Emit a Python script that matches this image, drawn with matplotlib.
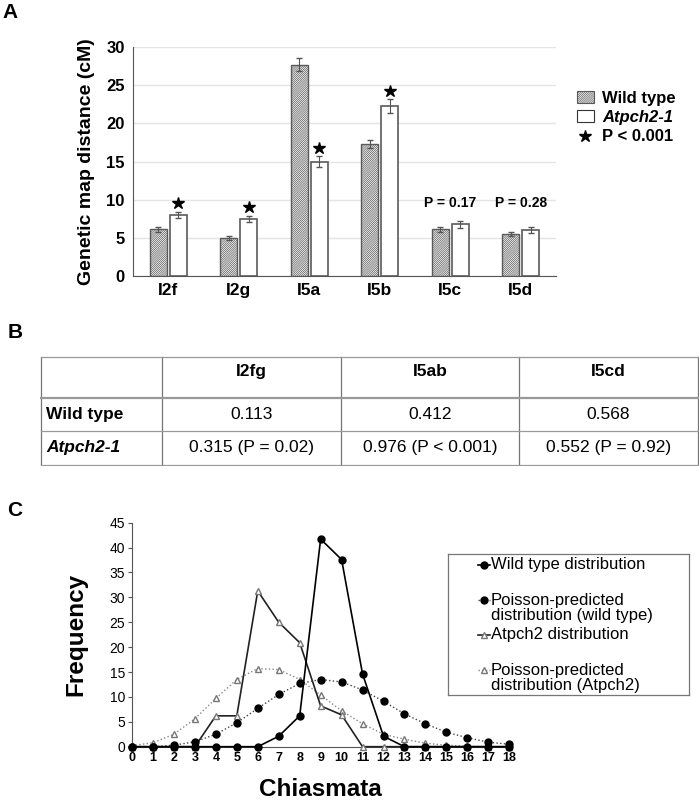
import numpy as np
import matplotlib.pyplot as plt
from matplotlib.patches import Patch
from matplotlib.lines import Line2D

plt.rcParams['font.family'] = ['Liberation Sans', 'DejaVu Sans']
plt.rcParams['hatch.linewidth'] = 0.5
narrow = ['Liberation Sans Narrow', 'Liberation Sans', 'DejaVu Sans']

# panel A data
intervals = ['I2f', 'I2g', 'I5a', 'I5b', 'I5c', 'I5d']
wt_cm = [6.1, 5.0, 27.7, 17.3, 6.1, 5.5]
wt_err = [0.3, 0.3, 0.8, 0.55, 0.3, 0.3]
mut_cm = [8.0, 7.5, 15.0, 22.3, 6.8, 6.0]
mut_err = [0.4, 0.4, 0.7, 0.9, 0.45, 0.4]
significant = [True, True, True, True, False, False]
p_labels = ['', '', '', '', 'P = 0.17', 'P = 0.28']

# panel B data
col_labels = ['I2fg', 'I5ab', 'I5cd']
row_labels = ['Wild type', 'Atpch2-1']
cell_values = [['0.113', '0.412', '0.568'],
               ['0.315 (P = 0.02)', '0.976 (P < 0.001)', '0.552 (P = 0.92)']]

# panel C data
chiasmata = list(range(19))
wt_dist = [0, 0, 0, 0, 0, 0, 0, 2.1, 6.2, 41.7, 37.6, 14.6, 2.1, 0, 0, 0, 0, 0, 0]
wt_poisson = [0, 0, 0.3, 1.0, 2.5, 4.8, 7.7, 10.5, 12.7, 13.5, 13.0, 11.4, 9.1,
              6.6, 4.6, 2.9, 1.8, 0.9, 0.5]
mut_dist = [0, 0, 0, 0, 6.2, 6.2, 31.3, 25.0, 20.9, 8.2, 6.4, 0, 0, 0, 0, 0, 0, 0, 0]
mut_poisson = [0.2, 0.8, 2.5, 5.6, 9.7, 13.5, 15.7, 15.5, 13.5, 10.4, 7.2, 4.6,
               2.5, 1.5, 0.7, 0.3, 0.1, 0, 0]

fig = plt.figure(figsize=(6.99, 8.0), dpi=100)
W, H = 699.0, 800.0

# ---------- A ----------
axA = fig.add_axes([133 / W, 1 - 276 / H, 423 / W, 229 / H])
x = np.arange(len(intervals))
bw = 0.24
edge = '#5a5a5a'
hatch = '/' * 16
axA.bar(x - 0.14, wt_cm, bw, yerr=wt_err, color='white', edgecolor=edge,
        hatch=hatch, linewidth=1.0, error_kw=dict(ecolor='#555555', elinewidth=0.8, capsize=2),
        zorder=3)
axA.bar(x + 0.14, mut_cm, bw, yerr=mut_err, color='white', edgecolor=edge,
        linewidth=1.2, error_kw=dict(ecolor='#555555', elinewidth=0.8, capsize=2),
        zorder=3)
for i in range(len(intervals)):
    if significant[i]:
        axA.plot(x[i] + 0.14, mut_cm[i] + mut_err[i] + 1.1, marker='*', color='black',
                 markersize=9, linestyle='none', zorder=4)
    if p_labels[i]:
        axA.text(x[i], 8.7, p_labels[i], ha='center', va='bottom',
                 fontsize=10, fontweight='bold')
axA.set_xlim(-0.5, 5.5)
axA.set_ylim(0, 30)
axA.set_yticks([0, 5, 10, 15, 20, 25, 30])
axA.set_xticks(x)
axA.set_xticklabels(intervals, fontsize=12.5, fontweight='bold', family=narrow)
for t in axA.get_yticklabels():
    t.set_fontsize(12)
    t.set_fontweight('bold')
axA.tick_params(length=0, pad=6)
axA.tick_params(axis='x', pad=5)
axA.grid(axis='y', color='#e4e4e4', linewidth=1.0, zorder=0)
axA.set_axisbelow(True)
for s in ['top', 'right']:
    axA.spines[s].set_visible(False)
axA.spines['left'].set_color('#555555')
axA.spines['bottom'].set_color('#555555')
axA.set_ylabel('Genetic map distance (cM)', fontsize=14, fontweight='bold', labelpad=8)

handles = [Patch(facecolor='white', edgecolor=edge, hatch=hatch, linewidth=0.8),
           Patch(facecolor='white', edgecolor='#333333', linewidth=0.8),
           Line2D([], [], marker='*', color='black', linestyle='none', markersize=9)]
legA = fig.legend(handles, ['Wild type', 'Atpch2-1', 'P < 0.001'], loc='upper left',
                  bbox_to_anchor=(562 / W, 1 - 76 / H), frameon=False, fontsize=12,
                  handlelength=1.0, handleheight=0.7, handletextpad=0.5, labelspacing=0.25)
texts = legA.get_texts()
for t in texts:
    t.set_fontweight('bold')
texts[1].set_fontstyle('italic')

fig.text(10 / W, 1 - 12 / H, 'A', fontsize=15, fontweight='bold', va='center', ha='center')

# ---------- B ----------
fig.text(15 / W, 1 - 333 / H, 'B', fontsize=15, fontweight='bold', va='center', ha='center')
axB = fig.add_axes([40 / W, 1 - 466 / H, 659 / W, 110 / H])
axB.set_xlim(0, 659)
axB.set_ylim(110, 0)
axB.axis('off')
col_x = [0.5, 122, 301, 479, 658]
row_y = [0.5, 42, 75, 108.5]
for cx in col_x:
    axB.plot([cx, cx], [row_y[0], row_y[-1]], color='#777777', linewidth=0.9)
for i, ry in enumerate(row_y):
    axB.plot([col_x[0], col_x[-1]], [ry, ry], color='#999999',
             linewidth=1.6 if i == 1 else 0.9)
for j in range(len(col_labels)):
    axB.text((col_x[j + 1] + col_x[j + 2]) / 2, 15, col_labels[j], ha='center', va='center',
             fontsize=12.5, fontweight='bold', family=narrow)
for i in range(len(row_labels)):
    yc = (row_y[i + 1] + row_y[i + 2]) / 2
    axB.text(6, yc, row_labels[i], ha='left', va='center', fontsize=12.5, fontweight='bold',
             fontstyle='italic' if i == 1 else 'normal')
    for j in range(len(col_labels)):
        axB.text((col_x[j + 1] + col_x[j + 2]) / 2, yc, cell_values[i][j], ha='center',
                 va='center', fontsize=12.5)

# ---------- C ----------
fig.text(15 / W, 1 - 510 / H, 'C', fontsize=15, fontweight='bold', va='center', ha='center')
axC = fig.add_axes([(132 - 0.3 * 20.96) / W, 1 - 746.7 / H, (18.6 * 20.96) / W, 224 / H])
line_styles = [
    dict(linestyle='-', color='black', linewidth=1.2),
    dict(linestyle=':', color='#444444', linewidth=1.0),
    dict(linestyle='-', color='#222222', linewidth=1.2),
    dict(linestyle=':', color='#888888', linewidth=1.0),
]
marker_styles = [
    dict(marker='o', markersize=5, markerfacecolor='black', markeredgecolor='black'),
    dict(marker='o', markersize=5, markerfacecolor='black', markeredgecolor='black'),
    dict(marker='^', markersize=5, markerfacecolor='white', markeredgecolor='#777777'),
    dict(marker='^', markersize=5, markerfacecolor='white', markeredgecolor='#777777'),
]
series = [wt_dist, wt_poisson, mut_dist, mut_poisson]
labels = ['Wild type distribution', 'Poisson-predicted\ndistribution (wild type)',
          'Atpch2 distribution', 'Poisson-predicted\ndistribution (Atpch2)']
for k in [3, 2, 1, 0]:
    axC.plot(chiasmata, series[k], clip_on=False, zorder=6 - k,
             **line_styles[k], **marker_styles[k])
axC.set_xlim(-0.3, 18.3)
axC.set_ylim(0, 45)
axC.set_xticks(chiasmata)
axC.set_yticks(range(0, 46, 5))
for t in axC.get_xticklabels():
    t.set_fontsize(9)
    t.set_fontweight('bold')
for t in axC.get_yticklabels():
    t.set_fontsize(9.5)
    t.set_fontweight('bold')
axC.tick_params(axis='x', length=0, pad=4)
axC.tick_params(axis='y', length=3, pad=2, color='#555555')
for s in ['top', 'right']:
    axC.spines[s].set_visible(False)
axC.spines['left'].set_position(('data', 0))
axC.spines['left'].set_color('#555555')
axC.spines['bottom'].set_color('#555555')
axC.spines['bottom'].set_bounds(0, 18)
axC.set_xlabel('Chiasmata', fontsize=17.5, fontweight='bold', labelpad=10)
axC.set_ylabel('Frequency', fontsize=17.5, fontweight='bold', labelpad=16)

# legend box for C, each entry two lines tall, marker on first line
axL = fig.add_axes([448 / W, 1 - 695 / H, 241 / W, 141 / H])
axL.set_xlim(448, 689)
axL.set_ylim(695, 554)
axL.set_xticks([])
axL.set_yticks([])
for s in axL.spines.values():
    s.set_color('#777777')
    s.set_linewidth(0.9)
for k in range(4):
    ly = 565 + 35 * k
    axL.plot([478, 490], [ly, ly], **line_styles[k])
    axL.plot([484], [ly], linestyle='none', **marker_styles[k])
    axL.text(491, ly - 7.5, labels[k], ha='left', va='top', fontsize=12,
             linespacing=1.05)

plt.savefig('out.png', dpi=100)
